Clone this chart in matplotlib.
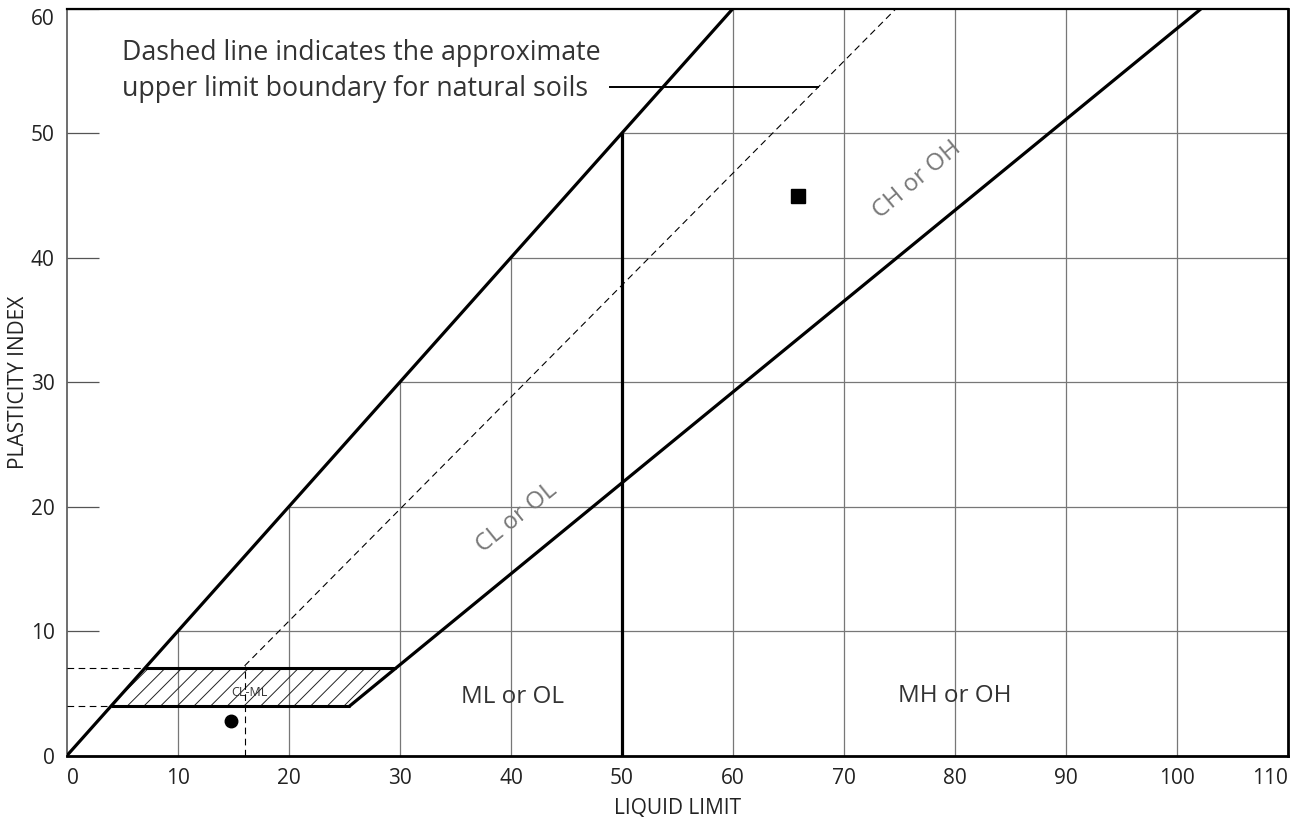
import numpy as np
import matplotlib
matplotlib.use("Agg")
import matplotlib.pyplot as plt
from matplotlib.patches import Polygon

plt.rcParams['font.family'] = ['Open Sans', 'DejaVu Sans']
plt.rcParams['hatch.linewidth'] = 0.7

# ---- data ----
x_ticks = [0, 10, 20, 30, 40, 50, 60, 70, 80, 90, 100, 110]
y_ticks = [0, 10, 20, 30, 40, 50, 60]
x_grid = [10, 20, 30, 40, 60, 70, 80, 90, 100]
y_grid = [10, 20, 30, 40, 50]

steep_ll = [0, 60]
steep_pi = [0, 60]
a_line_ll = [25.5, 29.6, 50, 102.2]
a_line_pi = [4, 7, 21.9, 60]
u_line_ll = [16, 74.7]
u_line_pi = [7.2, 60]
ll50_ll = [50, 50]
ll50_pi = [0, 50]
clml_ll = [4, 25.5, 29.6, 7]
clml_pi = [4, 4, 7, 7]
leader_ll = [48.9, 67.7]
leader_pi = [53.7, 53.7]

circle_ll, circle_pi = [14.8], [2.8]
square_ll, square_pi = [65.9], [44.9]

fig = plt.figure(figsize=(12.99, 8.17), dpi=100)
ax = fig.add_axes([67/1299, 1-755.5/817, (1288-67)/1299, (755.5-8.5)/817])
ax.set_xlim(0, 110)
ax.set_ylim(0, 60)

# grid only below the steep line
grid_kw = dict(color='#777777', lw=0.9, zorder=1)
for g in x_grid:
    ax.plot([g, g], [0, min(g, 60)], **grid_kw)
for g in y_grid:
    ax.plot([g, 110], [g, g], **grid_kw)

# hatched CL-ML zone
poly = Polygon(list(zip(clml_ll, clml_pi)), closed=True, facecolor='none',
               edgecolor='#222222', hatch='//', lw=0, zorder=2)
ax.add_patch(poly)
ax.plot([clml_ll[0], clml_ll[1]], [clml_pi[0], clml_pi[1]], color='black', lw=2.2, zorder=4, solid_capstyle='butt')
ax.plot([clml_ll[3], clml_ll[2]], [clml_pi[3], clml_pi[2]], color='black', lw=2.2, zorder=4, solid_capstyle='butt')

# main lines
ax.plot(steep_ll, steep_pi, color='black', lw=2.3, zorder=4)
ax.plot(a_line_ll, a_line_pi, color='black', lw=2.3, zorder=4)
ax.plot(ll50_ll, ll50_pi, color='black', lw=2.3, zorder=4, solid_capstyle='butt')

# dashed lines
dash_kw = dict(color='black', lw=0.8, dashes=(6, 4), zorder=3)
ax.plot(u_line_ll, u_line_pi, **dash_kw)
ax.plot([0, 7], [7, 7], **dash_kw)
ax.plot([0, 4], [4, 4], **dash_kw)
ax.plot([16, 16], [0, 7.2], **dash_kw)

# leader
ax.plot(leader_ll, leader_pi, color='black', lw=1.4, zorder=4)

# points
ax.plot(circle_ll, circle_pi, 'o', color='black', ms=9, zorder=5)
ax.plot(square_ll, square_pi, 's', color='black', ms=10.5, zorder=5)

# texts
ax.text(5.0, 55.9, 'Dashed line indicates the approximate', fontsize=19.3,
        color='#333333', ha='left', va='baseline')
ax.text(5.0, 53.0, 'upper limit boundary for natural soils', fontsize=19.3,
        color='#333333', ha='left', va='baseline')
ax.text(40.5, 19.1, 'CL or OL', fontsize=17.5, color='#777777', rotation=39,
        ha='center', va='center', rotation_mode='anchor')
ax.text(76.6, 46.2, 'CH or OH', fontsize=17.5, color='#777777', rotation=40,
        ha='center', va='center', rotation_mode='anchor')
ax.text(40.1, 4.7, 'ML or OL', fontsize=17.5, color='#333333', ha='center', va='center')
ax.text(80.0, 4.8, 'MH or OH', fontsize=17.5, color='#333333', ha='center', va='center')
ax.text(16.4, 5.1, 'CL-ML', fontsize=9, color='#333333', ha='center', va='center')

# axes styling
ax.set_xticks(x_ticks)
ax.set_yticks(y_ticks)
ax.tick_params(axis='x', length=0, pad=9, labelsize=15, labelcolor='#222222')
ax.tick_params(axis='y', direction='in', length=23, width=0.9, color='#555555',
               pad=9, labelsize=15, labelcolor='#222222')
xl = ax.get_xticklabels()
xl[0].set_ha('left')
xl[-1].set_ha('right')
yl = ax.get_yticklabels()
yl[-1].set_va('top')
ax.set_xlabel('LIQUID LIMIT', fontsize=15, color='#222222', labelpad=6)
ax.set_ylabel('PLASTICITY INDEX', fontsize=15, color='#222222')
ax.yaxis.set_label_coords(-0.031, 0.5)

ax.spines['left'].set_color('#555555')
ax.spines['left'].set_linewidth(1.2)
for s in ['bottom', 'right']:
    ax.spines[s].set_color('black')
    ax.spines[s].set_linewidth(2.0)
ax.spines['top'].set_color('black')
ax.spines['top'].set_linewidth(1.6)

fig.savefig('out.png', dpi=100)
